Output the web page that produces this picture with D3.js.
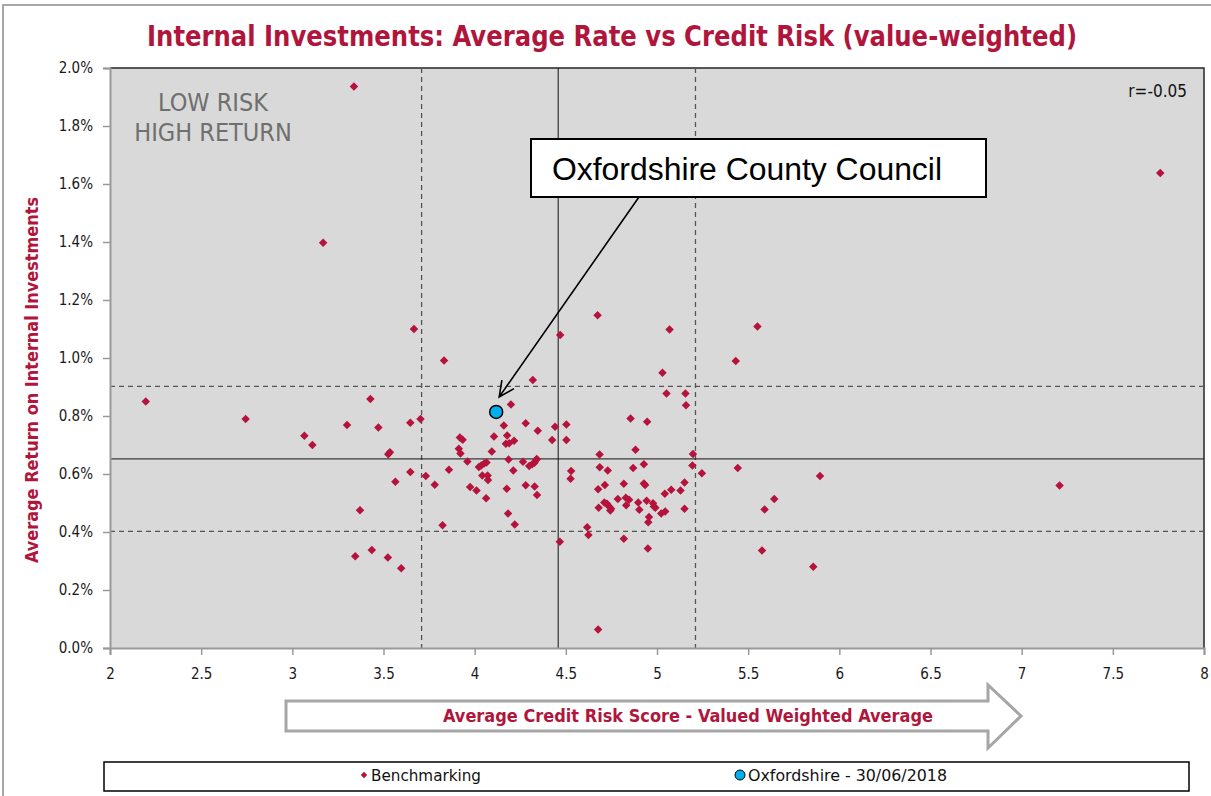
<!DOCTYPE html>
<html>
<head>
<meta charset="utf-8">
<script src="https://cdn.jsdelivr.net/npm/d3@7"></script>
<style>
  body { margin: 0; background: #fff; }
  svg text { font-family: "DejaVu Sans Condensed", "Liberation Sans Narrow", "Open Sans", sans-serif; }
</style>
</head>
<body>
<svg id="chart" width="1211" height="796"></svg>
<script>
// benchmarking group: credit risk score (x) and average return in % (y)
var benchScore = [
  2.196, 2.744, 3.066, 3.110, 3.300, 3.428, 3.472, 3.526, 3.535, 3.647,
  3.703, 3.647, 3.565, 3.732, 3.781, 3.859, 3.371, 3.824, 3.345, 3.436,
  3.524, 3.597, 3.832, 3.338, 3.169, 3.667, 4.319, 4.199, 4.160, 4.280,
  4.346, 4.441, 4.503, 4.503, 4.425, 4.106, 4.178, 4.171, 4.189, 4.216,
  3.919, 3.934, 3.913, 3.922, 4.094, 3.960, 4.023, 4.036, 4.052, 4.065,
  4.042, 4.071, 4.073, 3.975, 4.010, 4.063, 4.186, 4.212, 4.265, 4.299,
  4.315, 4.328, 4.337, 4.341, 4.176, 4.280, 4.329, 4.342, 4.183, 4.220,
  4.529, 4.526, 4.467, 4.617, 4.624, 4.677, 4.685, 4.686, 4.730, 4.677,
  4.714, 4.680, 4.711, 4.726, 4.737, 4.748, 4.744, 4.785, 4.818, 4.818,
  4.829, 4.847, 4.831, 4.869, 4.882, 4.855, 4.946, 5.030, 4.928, 4.928,
  4.935, 4.897, 4.903, 4.943, 4.978, 4.983, 4.991, 4.956, 4.952, 4.950,
  5.023, 5.045, 5.043, 5.078, 5.129, 5.151, 5.151, 5.194, 5.197, 5.052,
  5.156, 5.159, 5.246, 5.443, 5.894, 7.208, 5.643, 5.590, 5.576, 5.857,
  7.760, 4.674, 5.069, 5.551, 4.469, 5.432
];
var benchReturn = [
  0.850, 0.790, 0.732, 0.700, 0.769, 0.859, 0.760, 0.668, 0.675, 0.777,
  0.790, 0.607, 0.573, 0.593, 0.563, 0.615, 0.475, 0.423, 0.316, 0.338,
  0.312, 0.275, 0.991, 1.936, 1.397, 1.100, 0.924, 0.840, 0.767, 0.775,
  0.749, 0.763, 0.771, 0.717, 0.717, 0.729, 0.733, 0.704, 0.706, 0.715,
  0.726, 0.718, 0.687, 0.671, 0.678, 0.643, 0.624, 0.629, 0.636, 0.640,
  0.595, 0.595, 0.579, 0.555, 0.543, 0.516, 0.650, 0.612, 0.642, 0.628,
  0.634, 0.639, 0.648, 0.652, 0.549, 0.561, 0.557, 0.528, 0.464, 0.426,
  0.610, 0.584, 0.366, 0.416, 0.390, 0.064, 0.667, 0.623, 0.612, 0.547,
  0.562, 0.484, 0.502, 0.497, 0.488, 0.480, 0.474, 0.514, 0.566, 0.377,
  0.518, 0.511, 0.492, 0.621, 0.684, 0.791, 0.780, 0.949, 0.634, 0.567,
  0.562, 0.502, 0.477, 0.508, 0.499, 0.488, 0.484, 0.452, 0.434, 0.343,
  0.464, 0.471, 0.532, 0.546, 0.543, 0.571, 0.480, 0.629, 0.669, 0.878,
  0.878, 0.837, 0.603, 0.621, 0.593, 0.560, 0.514, 0.478, 0.336, 0.280,
  1.638, 1.147, 1.098, 1.109, 1.079, 0.990
];

var oxfordScore = [4.118];
var oxfordReturn = [0.814];

// mean and +/- one standard deviation guide lines
var scoreLines = [3.709, 4.458, 5.211];
var returnLines = [0.402, 0.652, 0.902];

var xTicks = [2, 2.5, 3, 3.5, 4, 4.5, 5, 5.5, 6, 6.5, 7, 7.5, 8];
var yTicks = [0, 0.2, 0.4, 0.6, 0.8, 1.0, 1.2, 1.4, 1.6, 1.8, 2.0];

var red = "#b0163c";

var svg = d3.select("#chart");

// outer frame
svg.append("rect")
    .attr("x", 3).attr("y", 5)
    .attr("width", 1215).attr("height", 800)
    .attr("fill", "#fff")
    .attr("stroke", "#8c8c8c")
    .attr("stroke-width", 1.5);

var margin = {top: 68, right: 7, bottom: 148, left: 110},
    width = 1211 - margin.left - margin.right,
    height = 796 - margin.top - margin.bottom;

var x = d3.scaleLinear().domain([2, 8]).range([0, width]);
var y = d3.scaleLinear().domain([0, 2]).range([height, 0]);

var g = svg.append("g")
    .attr("transform", "translate(" + margin.left + "," + margin.top + ")");

g.append("rect")
    .attr("width", width)
    .attr("height", height)
    .attr("fill", "#d9d9d9");

// top and right border
g.append("path")
    .attr("d", "M0,0H" + width + "V" + height)
    .attr("fill", "none")
    .attr("stroke", "#262626")
    .attr("stroke-width", 1.5);

// guide lines
g.selectAll(".vline")
    .data(scoreLines)
    .enter().append("line")
    .attr("x1", function(d) { return x(d); })
    .attr("x2", function(d) { return x(d); })
    .attr("y1", 0).attr("y2", height)
    .attr("stroke", function(d, i) { return i === 1 ? "#111" : "#555"; })
    .attr("stroke-width", function(d, i) { return i === 1 ? 1 : 1.3; })
    .attr("stroke-dasharray", function(d, i) { return i === 1 ? null : "5,4"; });

g.selectAll(".hline")
    .data(returnLines)
    .enter().append("line")
    .attr("x1", 0).attr("x2", width)
    .attr("y1", function(d) { return y(d); })
    .attr("y2", function(d) { return y(d); })
    .attr("stroke", function(d, i) { return i === 1 ? "#111" : "#555"; })
    .attr("stroke-width", function(d, i) { return i === 1 ? 1 : 1.3; })
    .attr("stroke-dasharray", function(d, i) { return i === 1 ? null : "5,4"; });

// axes
var yAxis = g.append("g")
    .call(d3.axisLeft(y).tickValues(yTicks).tickSize(7).tickPadding(10)
        .tickFormat(function(d) { return d.toFixed(1) + "%"; }));

var xAxis = g.append("g")
    .attr("transform", "translate(0," + height + ")")
    .call(d3.axisBottom(x).tickValues(xTicks).tickSize(7).tickPadding(13)
        .tickFormat(function(d) { return d; }));

[yAxis, xAxis].forEach(function(ax) {
    ax.select(".domain").attr("stroke", "#999").attr("stroke-width", 2);
    ax.selectAll(".tick line").attr("stroke", "#999").attr("stroke-width", 1.5);
    ax.selectAll(".tick text")
        .attr("fill", "#1a1a1a")
        .style("font-size", "15px");
});

// quadrant note
g.append("text")
    .attr("x", 103).attr("y", 42.5)
    .attr("text-anchor", "middle")
    .attr("fill", "#6f6f6f")
    .style("font-size", "25px")
    .text("LOW RISK");
g.append("text")
    .attr("x", 103).attr("y", 73)
    .attr("text-anchor", "middle")
    .attr("fill", "#6f6f6f")
    .style("font-size", "25px")
    .text("HIGH RETURN");

g.append("text")
    .attr("x", 1077).attr("y", 29)
    .attr("text-anchor", "end")
    .attr("fill", "#111")
    .style("font-size", "17px")
    .text("r=-0.05");

// benchmarking points
var diamond = d3.symbol().type(d3.symbolDiamond2).size(46);

g.selectAll(".bench")
    .data(d3.range(benchScore.length))
    .enter().append("path")
    .attr("class", "bench")
    .attr("d", diamond)
    .attr("transform", function(i) {
        return "translate(" + x(benchScore[i]) + "," + y(benchReturn[i]) + ")";
    })
    .attr("fill", "#b5133c");

// callout
var box = {x: 421, y: 71, w: 455, h: 58};
g.append("rect")
    .attr("x", box.x).attr("y", box.y)
    .attr("width", box.w).attr("height", box.h)
    .attr("fill", "#fff")
    .attr("stroke", "#000")
    .attr("stroke-width", 2);
g.append("text")
    .attr("x", box.x + 21).attr("y", box.y + 41)
    .attr("textLength", 390)
    .attr("lengthAdjust", "spacingAndGlyphs")
    .style("font-family", "'Liberation Sans', Arial, sans-serif")
    .style("font-size", "31px")
    .attr("fill", "#000")
    .text("Oxfordshire County Council");

var tipX = x(oxfordScore[0]) + 3, tipY = y(oxfordReturn[0]) - 15;
var startX = 529, startY = box.y + box.h;
var ang = Math.atan2(tipY - startY, tipX - startX);
var head = 17;
g.append("path")
    .attr("d", "M" + startX + "," + startY + "L" + tipX + "," + tipY +
        "M" + (tipX - head * Math.cos(ang - 0.45)) + "," + (tipY - head * Math.sin(ang - 0.45)) +
        "L" + tipX + "," + tipY +
        "L" + (tipX - head * Math.cos(ang + 0.45)) + "," + (tipY - head * Math.sin(ang + 0.45)))
    .attr("fill", "none")
    .attr("stroke", "#000")
    .attr("stroke-width", 1.6);

// Oxfordshire point
g.selectAll(".oxf")
    .data(oxfordScore)
    .enter().append("circle")
    .attr("cx", function(d) { return x(d); })
    .attr("cy", function(d, i) { return y(oxfordReturn[i]); })
    .attr("r", 6.5)
    .attr("fill", "#00aff0")
    .attr("stroke", "#000")
    .attr("stroke-width", 1.5);

// title
svg.append("text")
    .attr("x", 612).attr("y", 46)
    .attr("text-anchor", "middle")
    .attr("textLength", 930)
    .attr("lengthAdjust", "spacingAndGlyphs")
    .attr("fill", red)
    .style("font-size", "29px")
    .style("font-weight", "bold")
    .text("Internal Investments: Average Rate vs Credit Risk (value-weighted)");

// y axis title
svg.append("text")
    .attr("transform", "translate(38,380) rotate(-90)")
    .attr("text-anchor", "middle")
    .attr("textLength", 366)
    .attr("lengthAdjust", "spacingAndGlyphs")
    .attr("fill", red)
    .style("font-size", "17px")
    .style("font-weight", "bold")
    .text("Average Return on Internal Investments");

// x axis title inside a block arrow
svg.append("path")
    .attr("d", "M286,701H988V685L1021,716L988,748V731H286Z")
    .attr("fill", "#fff")
    .attr("stroke", "#a6a6a6")
    .attr("stroke-width", 3);
svg.append("text")
    .attr("x", 688).attr("y", 722)
    .attr("text-anchor", "middle")
    .attr("textLength", 490)
    .attr("lengthAdjust", "spacingAndGlyphs")
    .attr("fill", red)
    .style("font-size", "17px")
    .style("font-weight", "bold")
    .text("Average Credit Risk Score - Valued Weighted Average");

// legend
var legend = svg.append("g");
legend.append("rect")
    .attr("x", 104).attr("y", 762)
    .attr("width", 1085).attr("height", 29)
    .attr("fill", "#fff")
    .attr("stroke", "#000")
    .attr("stroke-width", 1.5);
legend.append("path")
    .attr("d", d3.symbol().type(d3.symbolDiamond2).size(26))
    .attr("transform", "translate(364,775)")
    .attr("fill", "#b5133c");
legend.append("text")
    .attr("x", 371).attr("y", 781)
    .attr("textLength", 110)
    .attr("lengthAdjust", "spacingAndGlyphs")
    .style("font-size", "15px")
    .attr("fill", "#111")
    .text("Benchmarking");
legend.append("circle")
    .attr("cx", 740).attr("cy", 775).attr("r", 5)
    .attr("fill", "#00aff0")
    .attr("stroke", "#000")
    .attr("stroke-width", 1);
legend.append("text")
    .attr("x", 748).attr("y", 781)
    .attr("textLength", 199)
    .attr("lengthAdjust", "spacingAndGlyphs")
    .style("font-size", "15px")
    .attr("fill", "#111")
    .text("Oxfordshire - 30/06/2018");
</script>
</body>
</html>
